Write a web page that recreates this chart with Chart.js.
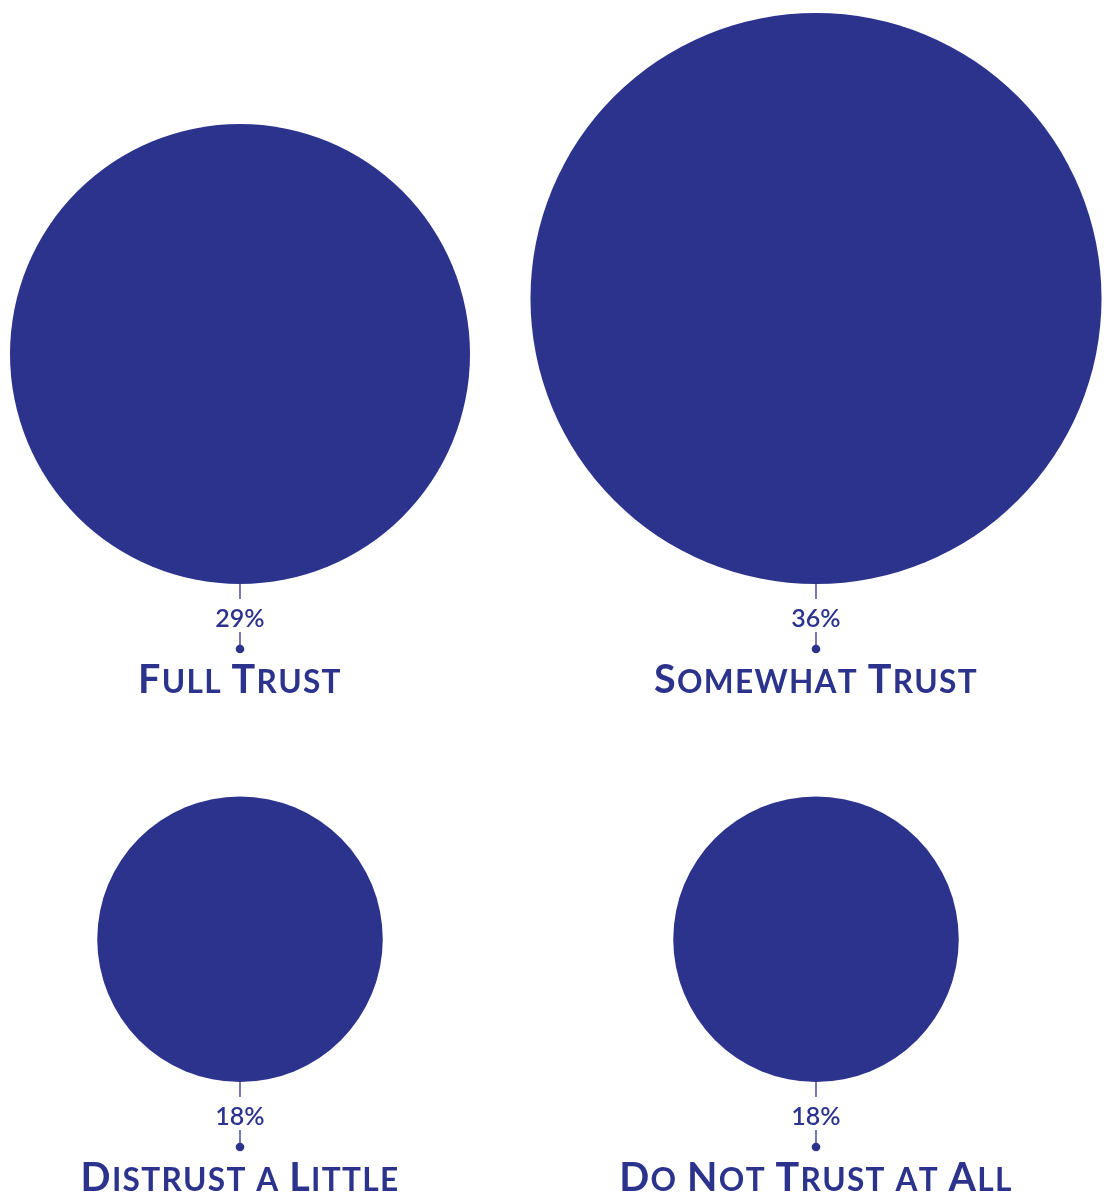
<!DOCTYPE html>
<html>
<head>
<meta charset="utf-8">
<script src="https://cdn.jsdelivr.net/npm/chart.js@4.4.1/dist/chart.umd.min.js"></script>
<style>
html,body{margin:0;padding:0;background:#fff;}
#wrap{width:1104px;height:1199px;position:relative;}
</style>
</head>
<body>
<div id="wrap"><canvas id="c" width="1104" height="1199"></canvas></div>
<script>
const categories = ["Full Trust", "Somewhat Trust", "Distrust a Little", "Do Not Trust at All"];
const values = [29, 36, 18, 18];
const valueLabels = ["29%", "36%", "18%", "18%"];
const columns = [0, 1, 0, 1];
const rows = [0, 0, 1, 1];

const COLOR = "#2C338C";
const PX_PER_UNIT = 230 / 29;        // bubble radius per percentage point
const ROW_BASELINE = [584, 1082];    // bottom edge of the circles in each row

const data = values.map((v, i) => {
  const r = v * PX_PER_UNIT;
  return { x: columns[i], y: ROW_BASELINE[rows[i]] - r, r: r };
});

function drawSmallCaps(ctx, text, cx, baseline, size, family) {
  const small = size * 0.8;
  const parts = [];
  let total = 0;
  for (const ch of text) {
    const isUpper = ch === ch.toUpperCase() && ch !== ch.toLowerCase();
    const s = isUpper ? size : small;
    ctx.font = "700 " + s + "px " + family;
    const t = ch.toUpperCase();
    const w = ctx.measureText(t).width + (ch === " " ? size * 0.05 : 1.3);
    parts.push({ t, s, w });
    total += w;
  }
  let x = cx - total / 2;
  ctx.textAlign = "left";
  ctx.textBaseline = "alphabetic";
  for (const p of parts) {
    ctx.font = "700 " + p.s + "px " + family;
    ctx.fillText(p.t, x, baseline);
    x += p.w;
  }
}

const labelPlugin = {
  id: "labels",
  afterDatasetsDraw(chart) {
    const ctx = chart.ctx;
    const meta = chart.getDatasetMeta(0);
    ctx.save();
    meta.data.forEach((el, i) => {
      const r = el.options.radius;
      const cx = el.x;
      const bottom = el.y + r;
      ctx.strokeStyle = COLOR;
      ctx.fillStyle = COLOR;
      ctx.lineWidth = 1.3;
      ctx.beginPath();
      ctx.moveTo(cx, bottom);
      ctx.lineTo(cx, bottom + 15);
      ctx.moveTo(cx, bottom + 48);
      ctx.lineTo(cx, bottom + 65);
      ctx.stroke();
      ctx.beginPath();
      ctx.arc(cx, bottom + 65, 4.3, 0, Math.PI * 2);
      ctx.fill();
      ctx.font = "600 25px Lato";
      ctx.textAlign = "center";
      ctx.textBaseline = "alphabetic";
      ctx.fillText(valueLabels[i], cx, bottom + 43);
      drawSmallCaps(ctx, categories[i], cx, bottom + 109, 39.5, "Lato");
    });
    ctx.restore();
  }
};

new Chart(document.getElementById("c"), {
  type: "bubble",
  data: {
    datasets: [{
      data: data,
      backgroundColor: COLOR,
      borderWidth: 0,
      hoverBorderWidth: 0,
      hoverRadius: 0,
      clip: false
    }]
  },
  options: {
    responsive: false,
    animation: false,
    events: [],
    layout: { padding: 0, autoPadding: false },
    plugins: { legend: { display: false }, tooltip: { enabled: false } },
    scales: {
      x: { type: "linear", display: false, min: -240 / 576, max: 864 / 576 },
      y: { type: "linear", display: false, min: 0, max: 1199, reverse: true }
    }
  },
  plugins: [labelPlugin]
});
</script>
</body>
</html>
